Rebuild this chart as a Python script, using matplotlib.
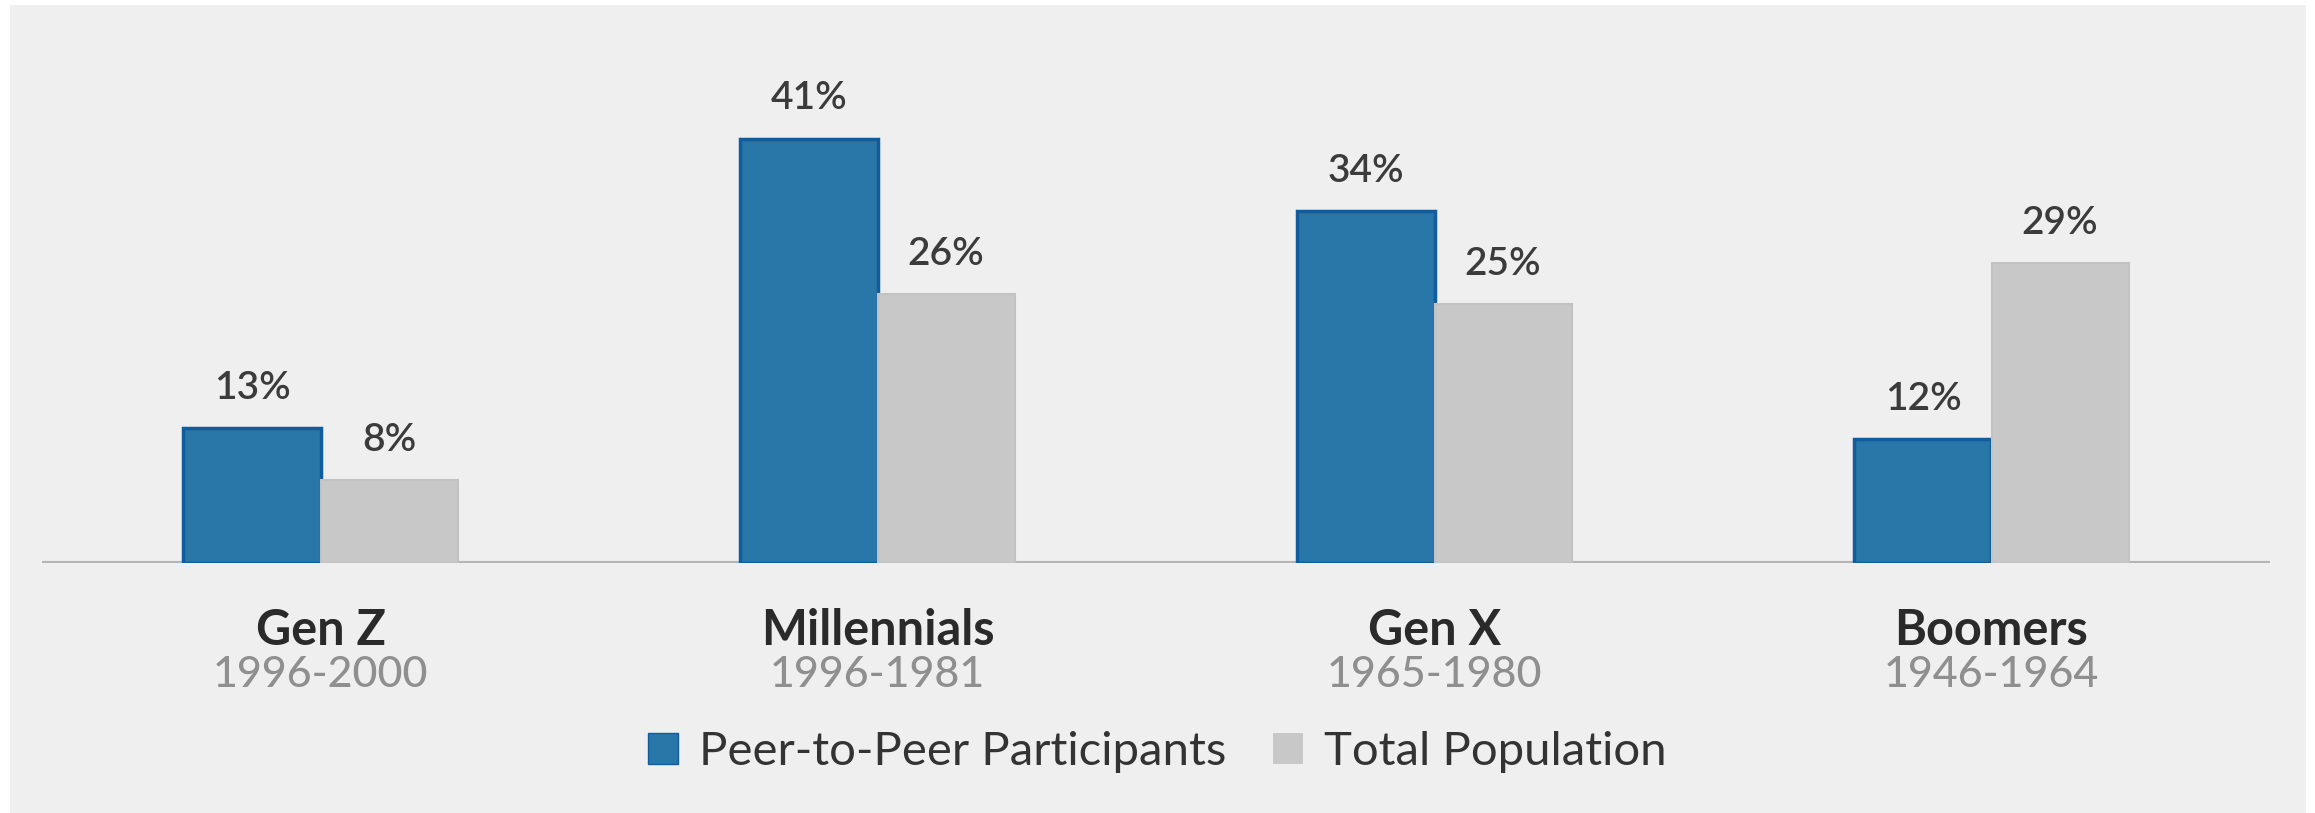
import numpy as np
import matplotlib
matplotlib.use("Agg")
import matplotlib.pyplot as plt
from matplotlib.patches import Rectangle, Patch

# data
generations = ["Gen Z", "Millennials", "Gen X", "Boomers"]
years = ["1996-2000", "1996-1981", "1965-1980", "1946-1964"]
peer_to_peer = [13, 41, 34, 12]
total_population = [8, 26, 25, 29]
series_names = ["Peer-to-Peer Participants", "Total Population"]

blue = "#2976a9"
blue_edge = "#0f5c9e"
grey = "#c8c8c8"

plt.rcParams["font.family"] = ["Lato", "DejaVu Sans"]

fig = plt.figure(figsize=(23.15, 8.13), dpi=100, facecolor="white")
# light grey panel behind the chart
fig.patches.append(Rectangle((10 / 2315, 0), (2306 - 10) / 2315, 1 - 5 / 813,
                             transform=fig.transFigure, facecolor="#efefef",
                             edgecolor="none", zorder=-5))

ax = fig.add_axes([42 / 2315, 1 - 563 / 813, (2270 - 42) / 2315, 517.5 / 813])
ax.set_facecolor("none")
ax.set_zorder(2)

x = np.arange(len(generations))
w = 0.246
b1 = ax.bar(x - w / 2, peer_to_peer, w, color=blue, edgecolor=blue_edge,
            linewidth=2.5, zorder=2)
b2 = ax.bar(x + w / 2, total_population, w, color=grey, edgecolor="#c2c2c2",
            linewidth=1.5, zorder=2)

ax.axhline(0, color="#b5b5b5", linewidth=3, zorder=1)
ax.set_xlim(-0.5, 3.5)
ax.set_ylim(0, 50)
ax.axis("off")

# value labels above bars
for bars, vals in [(b1, peer_to_peer), (b2, total_population)]:
    for rect, v in zip(bars, vals):
        ax.annotate(f"{v}%", (rect.get_x() + rect.get_width() / 2, v),
                    xytext=(0, 21), textcoords="offset points",
                    ha="center", va="baseline", fontsize=28,
                    fontweight="semibold", color="#3b3b3b")

# category names + year ranges under the baseline
for xi, name, yr in zip(x, generations, years):
    ax.annotate(name, (xi, 0), xytext=(0, -59), textcoords="offset points",
                ha="center", va="baseline", fontsize=35, fontweight="bold",
                color="#2a2a2a", annotation_clip=False)
    ax.annotate(yr, (xi, 0), xytext=(0, -89), textcoords="offset points",
                ha="center", va="baseline", fontsize=31, fontweight="medium",
                color="#8f8f8f", annotation_clip=False)

handles = [Patch(facecolor=blue, edgecolor=blue_edge, linewidth=1),
           Patch(facecolor=grey, edgecolor="none")]
leg = fig.legend(handles, series_names, loc="center", ncol=2,
                 bbox_to_anchor=(0.5, 1 - 752 / 813), frameon=False,
                 prop={"family": ["Lato", "DejaVu Sans"], "weight": "normal", "size": 34},
                 handlelength=0.62, handleheight=0.62, handletextpad=0.45,
                 columnspacing=1.0, borderpad=0)
for t in leg.get_texts():
    t.set_color("#333333")

fig.savefig("out.png", dpi=100, facecolor="white")
